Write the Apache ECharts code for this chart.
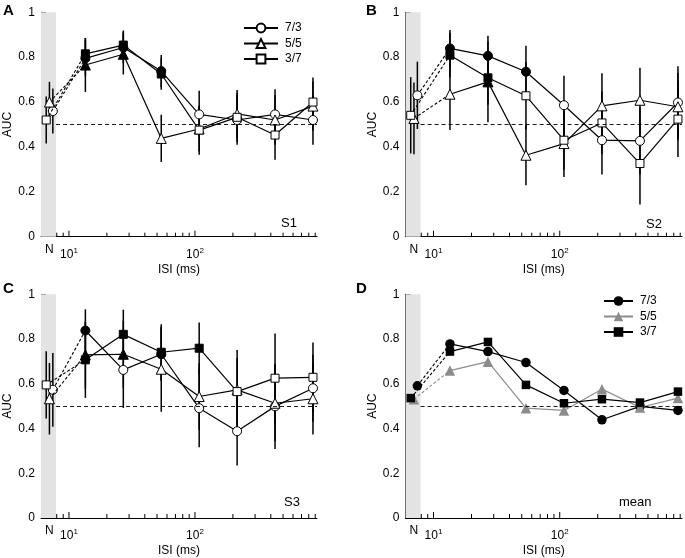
<!DOCTYPE html>
<html><head><meta charset="utf-8">
<script src="https://cdn.jsdelivr.net/npm/echarts@6/dist/echarts.min.js"></script>
<style>html,body{margin:0;padding:0;background:#fff}#c{width:685px;height:558px}</style>
</head><body><div id="c"></div>
<script>
// ---------------- DATA ----------------
const isi = [13.5, 27, 54, 108, 216, 432, 864];
const conds = ['7/3', '5/5', '3/7'];
const nPos = [7.45, 7.0, 6.6];          // x position of the "N" points (7/3, 5/5, 3/7)
const panelLetters = ['A', 'B', 'C', 'D'];
const panelTags = ['S1', 'S2', 'S3', 'mean'];
const majorTicks = [10, 100];
const minorTicks = [8, 9, 20, 30, 40, 50, 60, 70, 80, 90, 200, 300, 400, 500, 600, 700, 800, 900];
const xLabelN = 'N';
const xName = 'ISI (ms)';
const yName = 'AUC';
// index 0 = N, 1..7 = ISI values
const s1_73 = [0.56, 0.795, 0.843, 0.738, 0.545, 0.52, 0.545, 0.52];
const s1_55 = [0.60, 0.765, 0.813, 0.438, 0.48, 0.547, 0.52, 0.582];
const s1_37 = [0.52, 0.815, 0.854, 0.725, 0.475, 0.532, 0.453, 0.60];
const s1_73_err = [0.10, 0.08, 0.07, 0.072, 0.105, 0.11, 0.112, 0.11];
const s1_55_err = [0.09, 0.12, 0.09, 0.105, 0.10, 0.107, 0.11, 0.11];
const s1_37_err = [0.105, 0.07, 0.065, 0.07, 0.11, 0.11, 0.11, 0.11];
const s1_73_sig = [0, 1, 1, 1, 0, 0, 0, 0];
const s1_55_sig = [0, 1, 1, 0, 0, 0, 0, 0];
const s1_37_sig = [0, 1, 1, 1, 0, 0, 0, 0];

const s2_73 = [0.63, 0.839, 0.806, 0.735, 0.586, 0.43, 0.427, 0.598];
const s2_55 = [0.527, 0.635, 0.69, 0.363, 0.415, 0.583, 0.608, 0.579];
const s2_37 = [0.541, 0.809, 0.708, 0.628, 0.43, 0.507, 0.326, 0.524];
const s2_73_err = [0.15, 0.082, 0.09, 0.116, 0.131, 0.153, 0.15, 0.162];
const s2_55_err = [0.16, 0.16, 0.18, 0.134, 0.149, 0.145, 0.145, 0.15];
const s2_37_err = [0.17, 0.10, 0.12, 0.15, 0.13, 0.14, 0.183, 0.169];
const s2_73_sig = [0, 1, 1, 1, 0, 0, 0, 0];
const s2_55_sig = [0, 0, 1, 0, 0, 0, 0, 0];
const s2_37_sig = [0, 1, 1, 0, 0, 0, 0, 0];

const s3_73 = [0.573, 0.838, 0.662, 0.732, 0.491, 0.388, 0.499, 0.58];
const s3_55 = [0.533, 0.729, 0.732, 0.665, 0.543, 0.573, 0.513, 0.533];
const s3_37 = [0.595, 0.707, 0.821, 0.741, 0.759, 0.565, 0.625, 0.629];
const s3_73_err = [0.165, 0.095, 0.17, 0.12, 0.175, 0.153, 0.19, 0.15];
const s3_55_err = [0.16, 0.15, 0.15, 0.19, 0.15, 0.178, 0.17, 0.16];
const s3_37_err = [0.15, 0.17, 0.11, 0.125, 0.115, 0.15, 0.2, 0.155];
const s3_73_sig = [0, 1, 0, 1, 0, 0, 0, 0];
const s3_55_sig = [0, 1, 1, 0, 0, 0, 0, 0];
const s3_37_sig = [0, 1, 1, 1, 1, 0, 0, 0];

const mean_73 = [0.591, 0.778, 0.744, 0.695, 0.57, 0.439, 0.499, 0.481];
const mean_55 = [0.531, 0.659, 0.699, 0.491, 0.481, 0.576, 0.494, 0.536];
const mean_37 = [0.536, 0.744, 0.787, 0.595, 0.513, 0.531, 0.516, 0.565];

// ---------------- LAYOUT / STYLE ----------------
const FONT = '"Liberation Sans", Arial, Helvetica, sans-serif';
const X_MIN = 6, X_MAX = 930, BAND_END = 7.9, REF_Y = 0.5;
const grids = [
  {left: 41, top: 12.3, width: 276, height: 224.4},
  {left: 405.5, top: 12.3, width: 277, height: 224.4},
  {left: 41, top: 294.3, width: 276, height: 224},
  {left: 405.5, top: 294.3, width: 277, height: 224}
];
const symbols = ['circle', 'triangle', 'rect'];
const symSizes = [9, 10, 8];
const symSizesD = [9.5, 10.5, 8.5];
const meanColors = ['#000', '#8c8c8c', '#000'];

const panelData = [
  {vals: [s1_73, s1_55, s1_37], errs: [s1_73_err, s1_55_err, s1_37_err], sigs: [s1_73_sig, s1_55_sig, s1_37_sig]},
  {vals: [s2_73, s2_55, s2_37], errs: [s2_73_err, s2_55_err, s2_37_err], sigs: [s2_73_sig, s2_55_sig, s2_37_sig]},
  {vals: [s3_73, s3_55, s3_37], errs: [s3_73_err, s3_55_err, s3_37_err], sigs: [s3_73_sig, s3_55_sig, s3_37_sig]},
  {vals: [mean_73, mean_55, mean_37], errs: null, sigs: null}
];

const xAxes = [], yAxes = [], series = [];
function lg(v){ return Math.round(Math.log10(v) * 1000) / 1000; }

grids.forEach((g, pi) => {
  xAxes.push({
    type: 'log', logBase: 10, gridIndex: pi, min: X_MIN, max: X_MAX,
    axisLine: {show: true, onZero: false, lineStyle: {color: '#000', width: 1}},
    axisTick: {show: false}, splitLine: {show: false}, minorTick: {show: false},
    axisLabel: {
      margin: 10, color: '#000', fontSize: 12, fontFamily: FONT,
      showMinLabel: true, showMaxLabel: true,
      formatter: v => { const l = lg(v); return (l === 1 || l === 2) ? '10{s|' + l + '}' : ''; },
      rich: {s: {fontSize: 8, verticalAlign: 'top', color: '#000', fontFamily: FONT, padding: [0, 0, 7, 0]}}
    },
    name: xName, nameLocation: 'middle', nameGap: 27,
    nameTextStyle: {color: '#000', fontSize: 12, fontFamily: FONT}
  });
  yAxes.push({
    type: 'value', gridIndex: pi, min: 0, max: 1, interval: 0.2,
    axisLine: {show: true, onZero: false, lineStyle: {color: '#000', width: 1}},
    axisTick: {show: true, inside: true, length: 5, lineStyle: {color: '#000'}},
    splitLine: {show: false},
    axisLabel: {margin: 6, color: '#000', fontSize: 12, fontFamily: FONT},
    name: yName, nameLocation: 'middle', nameGap: 27, nameRotate: 90,
    nameTextStyle: {color: '#000', fontSize: 12, fontFamily: FONT}
  });

  // band + reference line holder
  series.push({
    type: 'line', xAxisIndex: pi, yAxisIndex: pi, z: 0, silent: true,
    data: [[BAND_END, REF_Y]], symbol: 'none', lineStyle: {width: 0, opacity: 0},
    markArea: {silent: true, itemStyle: {color: '#e3e3e3'},
      data: [[{coord: [X_MIN, 0]}, {coord: [BAND_END, 1]}]]},
    markLine: {silent: true, symbol: 'none', label: {show: false},
      lineStyle: {color: '#000', width: 0.9, type: [4, 3]},
      data: [[{coord: [BAND_END, REF_Y]}, {coord: [X_MAX, REF_Y]}]]}
  });

  // axis ticks (pointing inward)
  const tickData = majorTicks.map(v => [v, 0, 1]).concat(minorTicks.map(v => [v, 0, 0]));
  series.push({
    type: 'custom', xAxisIndex: pi, yAxisIndex: pi, silent: true, z: 6,
    data: tickData, encode: {x: 0, y: 1},
    renderItem: (params, api) => {
      const p = api.coord([api.value(0), 0]);
      const len = api.value(2) ? 6 : 4;
      return {type: 'line', shape: {x1: p[0], y1: p[1], x2: p[0], y2: p[1] - len},
        style: {stroke: '#000', lineWidth: 1}};
    }
  });
  // "N" label
  series.push({
    type: 'custom', xAxisIndex: pi, yAxisIndex: pi, silent: true, z: 6,
    data: [[nPos[1], 0]], encode: {x: 0, y: 1},
    renderItem: (params, api) => {
      const p = api.coord([api.value(0), 0]);
      return {type: 'text', style: {text: xLabelN, x: p[0], y: p[1] + 7, fill: '#000',
        font: '12px ' + FONT, align: 'center', verticalAlign: 'top'}};
    }
  });

  const pd = panelData[pi];
  const isMean = pd.errs === null;
  conds.forEach((c, ci) => {
    const v = pd.vals[ci];
    const fillOf = k => isMean ? meanColors[ci] : (pd.sigs[ci][k] ? '#000' : '#fff');
    const lineColor = isMean ? meanColors[ci] : '#000';
    const size = isMean ? symSizesD[ci] : symSizes[ci];
    const itemStyleOf = k => isMean
      ? {color: fillOf(k), borderWidth: 0}
      : {color: fillOf(k), borderColor: '#000', borderWidth: 1};
    // error bars
    if (!isMean) {
      const xs = [nPos[ci]].concat(isi);
      series.push({
        type: 'custom', xAxisIndex: pi, yAxisIndex: pi, silent: true, z: 1,
        data: xs.map((x, k) => [x, v[k], pd.errs[ci][k]]), encode: {x: 0, y: 1},
        renderItem: (params, api) => {
          const x = api.value(0), y = api.value(1), e = api.value(2);
          const a = api.coord([x, y + e]), b = api.coord([x, y - e]);
          return {type: 'line', shape: {x1: a[0], y1: a[1], x2: b[0], y2: b[1]},
            style: {stroke: '#000', lineWidth: 1.5}};
        }
      });
    }
    // dashed segment N -> first ISI
    series.push({
      type: 'line', xAxisIndex: pi, yAxisIndex: pi, z: 3 + ci * 0.1, silent: true,
      name: panelLetters[pi] + '|' + c + '|N',
      data: [
        {value: [nPos[ci], v[0]], symbol: symbols[ci], symbolSize: size, itemStyle: itemStyleOf(0)},
        {value: [isi[0], v[1]], symbol: 'none'}
      ],
      lineStyle: {color: lineColor, width: 1.1, type: [3, 2]},
      itemStyle: itemStyleOf(0)
    });
    // main solid line
    series.push({
      type: 'line', xAxisIndex: pi, yAxisIndex: pi, z: 4 + ci * 0.1, silent: true,
      name: panelLetters[pi] + '|' + c,
      symbol: symbols[ci], symbolSize: size,
      data: isi.map((x, k) => ({value: [x, v[k + 1]], itemStyle: itemStyleOf(k + 1)})),
      lineStyle: {color: lineColor, width: 1.2},
      itemStyle: isMean ? {color: lineColor, borderWidth: 0} : {color: '#fff', borderColor: '#000', borderWidth: 1}
    });
  });
});

const titles = [];
const letterPos = [[3, 3], [366, 3], [3, 281], [356, 281]];
letterPos.forEach((p, i) => titles.push({text: panelLetters[i], left: p[0], top: p[1], padding: 0,
  textStyle: {fontSize: 15, fontWeight: 'bold', color: '#000', fontFamily: FONT}}));
const tagPos = [[281, 217], [646, 218], [284, 496], [619, 496]];
tagPos.forEach((p, i) => titles.push({text: panelTags[i], left: p[0], top: p[1], padding: 0,
  textStyle: {fontSize: 13, fontWeight: 'normal', color: '#000', fontFamily: FONT}}));

const legendBase = {
  orient: 'vertical', itemWidth: 34, itemHeight: 11, itemGap: 3.5, padding: 0,
  selectedMode: false, formatter: n => n.split('|')[1],
  textStyle: {fontSize: 12, color: '#000', fontFamily: FONT, padding: [0, 0, 0, 2]}
};
const legends = [
  Object.assign({}, legendBase, {left: 243, top: 22, data: conds.map(c => 'A|' + c)}),
  Object.assign({}, legendBase, {left: 603, top: 295, itemWidth: 29, itemHeight: 12, data: conds.map(c => 'D|' + c)})
];

const chart = echarts.init(document.getElementById('c'), null, {renderer: 'canvas'});
chart.setOption({
  animation: false, backgroundColor: '#fff',
  textStyle: {fontFamily: FONT},
  title: titles, legend: legends,
  grid: grids, xAxis: xAxes, yAxis: yAxes, series: series
});
</script></body></html>
